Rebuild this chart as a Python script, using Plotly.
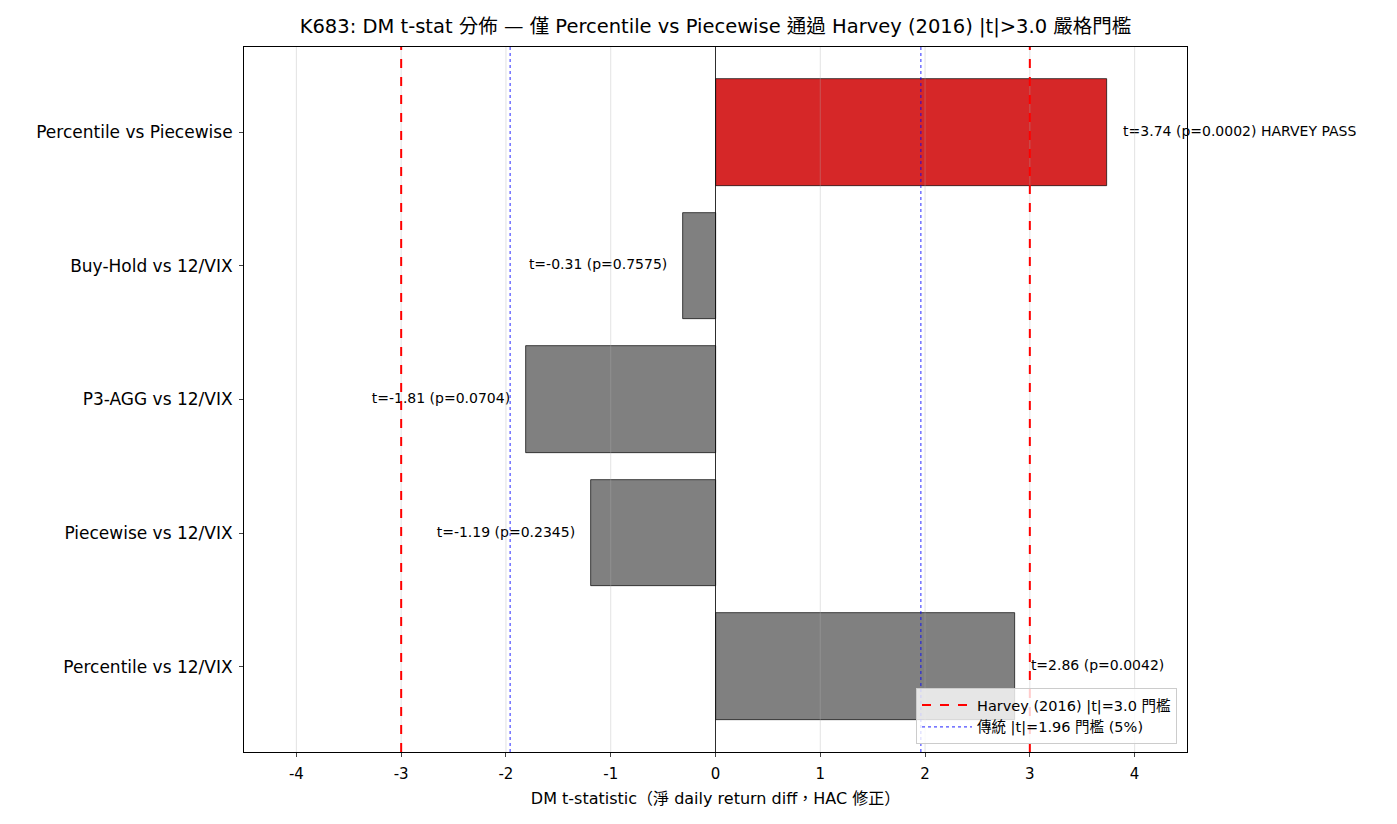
import plotly.graph_objects as go

categories = ["Percentile vs 12/VIX", "Piecewise vs 12/VIX", "P3-AGG vs 12/VIX",
              "Buy-Hold vs 12/VIX", "Percentile vs Piecewise"]
t_stats = [2.86, -1.19, -1.81, -0.31, 3.74]
p_values = [0.0042, 0.2345, 0.0704, 0.7575, 0.0002]
passes = [False, False, False, False, True]
x_ticks = [-4, -3, -2, -1, 0, 1, 2, 3, 4]
harvey = 3.0
classic = 1.96

FONT = "'DejaVu Sans', 'Noto Sans CJK TC', sans-serif"
ypos = list(range(len(categories)))
colors = ["#d62728" if p else "#808080" for p in passes]

fig = go.Figure()
fig.add_trace(go.Bar(
    x=t_stats, y=ypos, orientation="h", width=0.8,
    marker=dict(color=colors, line=dict(color="black", width=0.7)),
    showlegend=False, hoverinfo="skip"))

# value labels
for t, p, ps, y in zip(t_stats, p_values, passes, ypos):
    label = f"t={t:.2f} (p={p:.4f})" + (" HARVEY PASS" if ps else "")
    fig.add_trace(go.Scatter(
        x=[t + 0.15 if t >= 0 else t - 0.15], y=[y], mode="text", text=[label],
        textposition="middle right" if t >= 0 else "middle left",
        textfont=dict(family=FONT, size=14, color="black"),
        cliponaxis=False, showlegend=False, hoverinfo="skip"))

# legend entries
fig.add_trace(go.Scatter(x=[None], y=[None], mode="lines",
                         line=dict(color="red", dash="dash", width=2),
                         name="Harvey (2016) |t|=3.0 門檻"))
fig.add_trace(go.Scatter(x=[None], y=[None], mode="lines",
                         line=dict(color="rgba(0,0,255,0.7)", dash="dot", width=1.2),
                         name="傳統 |t|=1.96 門檻 (5%)"))

# grid lines (drawn above like reference)
for xv in x_ticks:
    fig.add_shape(type="line", x0=xv, x1=xv, y0=0, y1=1, xref="x", yref="paper",
                  line=dict(color="rgba(176,176,176,0.35)", width=1), layer="above")
# zero line
fig.add_shape(type="line", x0=0, x1=0, y0=0, y1=1, xref="x", yref="paper",
              line=dict(color="black", width=0.8), layer="above")
for s in (-1, 1):
    fig.add_shape(type="line", x0=s * harvey, x1=s * harvey, y0=0, y1=1, xref="x", yref="paper",
                  line=dict(color="red", dash="dash", width=2), layer="above")
    fig.add_shape(type="line", x0=s * classic, x1=s * classic, y0=0, y1=1, xref="x", yref="paper",
                  line=dict(color="rgba(0,0,255,0.7)", dash="dot", width=1.2), layer="above")

fig.update_layout(
    width=1397, height=824,
    margin=dict(l=244, r=210, t=47, b=72),
    plot_bgcolor="white", paper_bgcolor="white",
    font=dict(family=FONT, size=15, color="black"),
    title=dict(text="K683: DM t-stat 分佈 — 僅 Percentile vs Piecewise 通過 Harvey (2016) |t|>3.0 嚴格門檻",
               x=(244 + 1187) / 2 / 1397, xanchor="center", y=1 - 26 / 824, yanchor="middle",
               font=dict(family=FONT, size=19.5)),
    xaxis=dict(range=[-4.5, 4.5], tickvals=x_ticks, ticktext=[str(v) for v in x_ticks],
               showgrid=False, zeroline=False, ticks="outside", ticklen=4, tickwidth=0.8,
               showline=True, linecolor="black", linewidth=1, mirror=True,
               tickfont=dict(family=FONT, size=15), ticklabelstandoff=4,
               title=dict(text="DM t-statistic（淨 daily return diff，HAC 修正）", standoff=10,
                          font=dict(family=FONT, size=16))),
    yaxis=dict(range=[-0.64, 4.64], tickvals=ypos, ticktext=categories,
               showgrid=False, zeroline=False, ticks="outside", ticklen=4, tickwidth=0.8,
               showline=True, linecolor="black", linewidth=1, mirror=True,
               tickfont=dict(family=FONT, size=17), ticklabelstandoff=3),
    legend=dict(x=(1177 - 244) / 943, y=(752 - 744) / 705, xanchor="right", yanchor="bottom",
                bgcolor="rgba(255,255,255,0.8)", bordercolor="#cccccc", borderwidth=1,
                font=dict(family=FONT, size=14.5), itemwidth=50),
    bargap=0,
)

fig.write_html("out.html")
